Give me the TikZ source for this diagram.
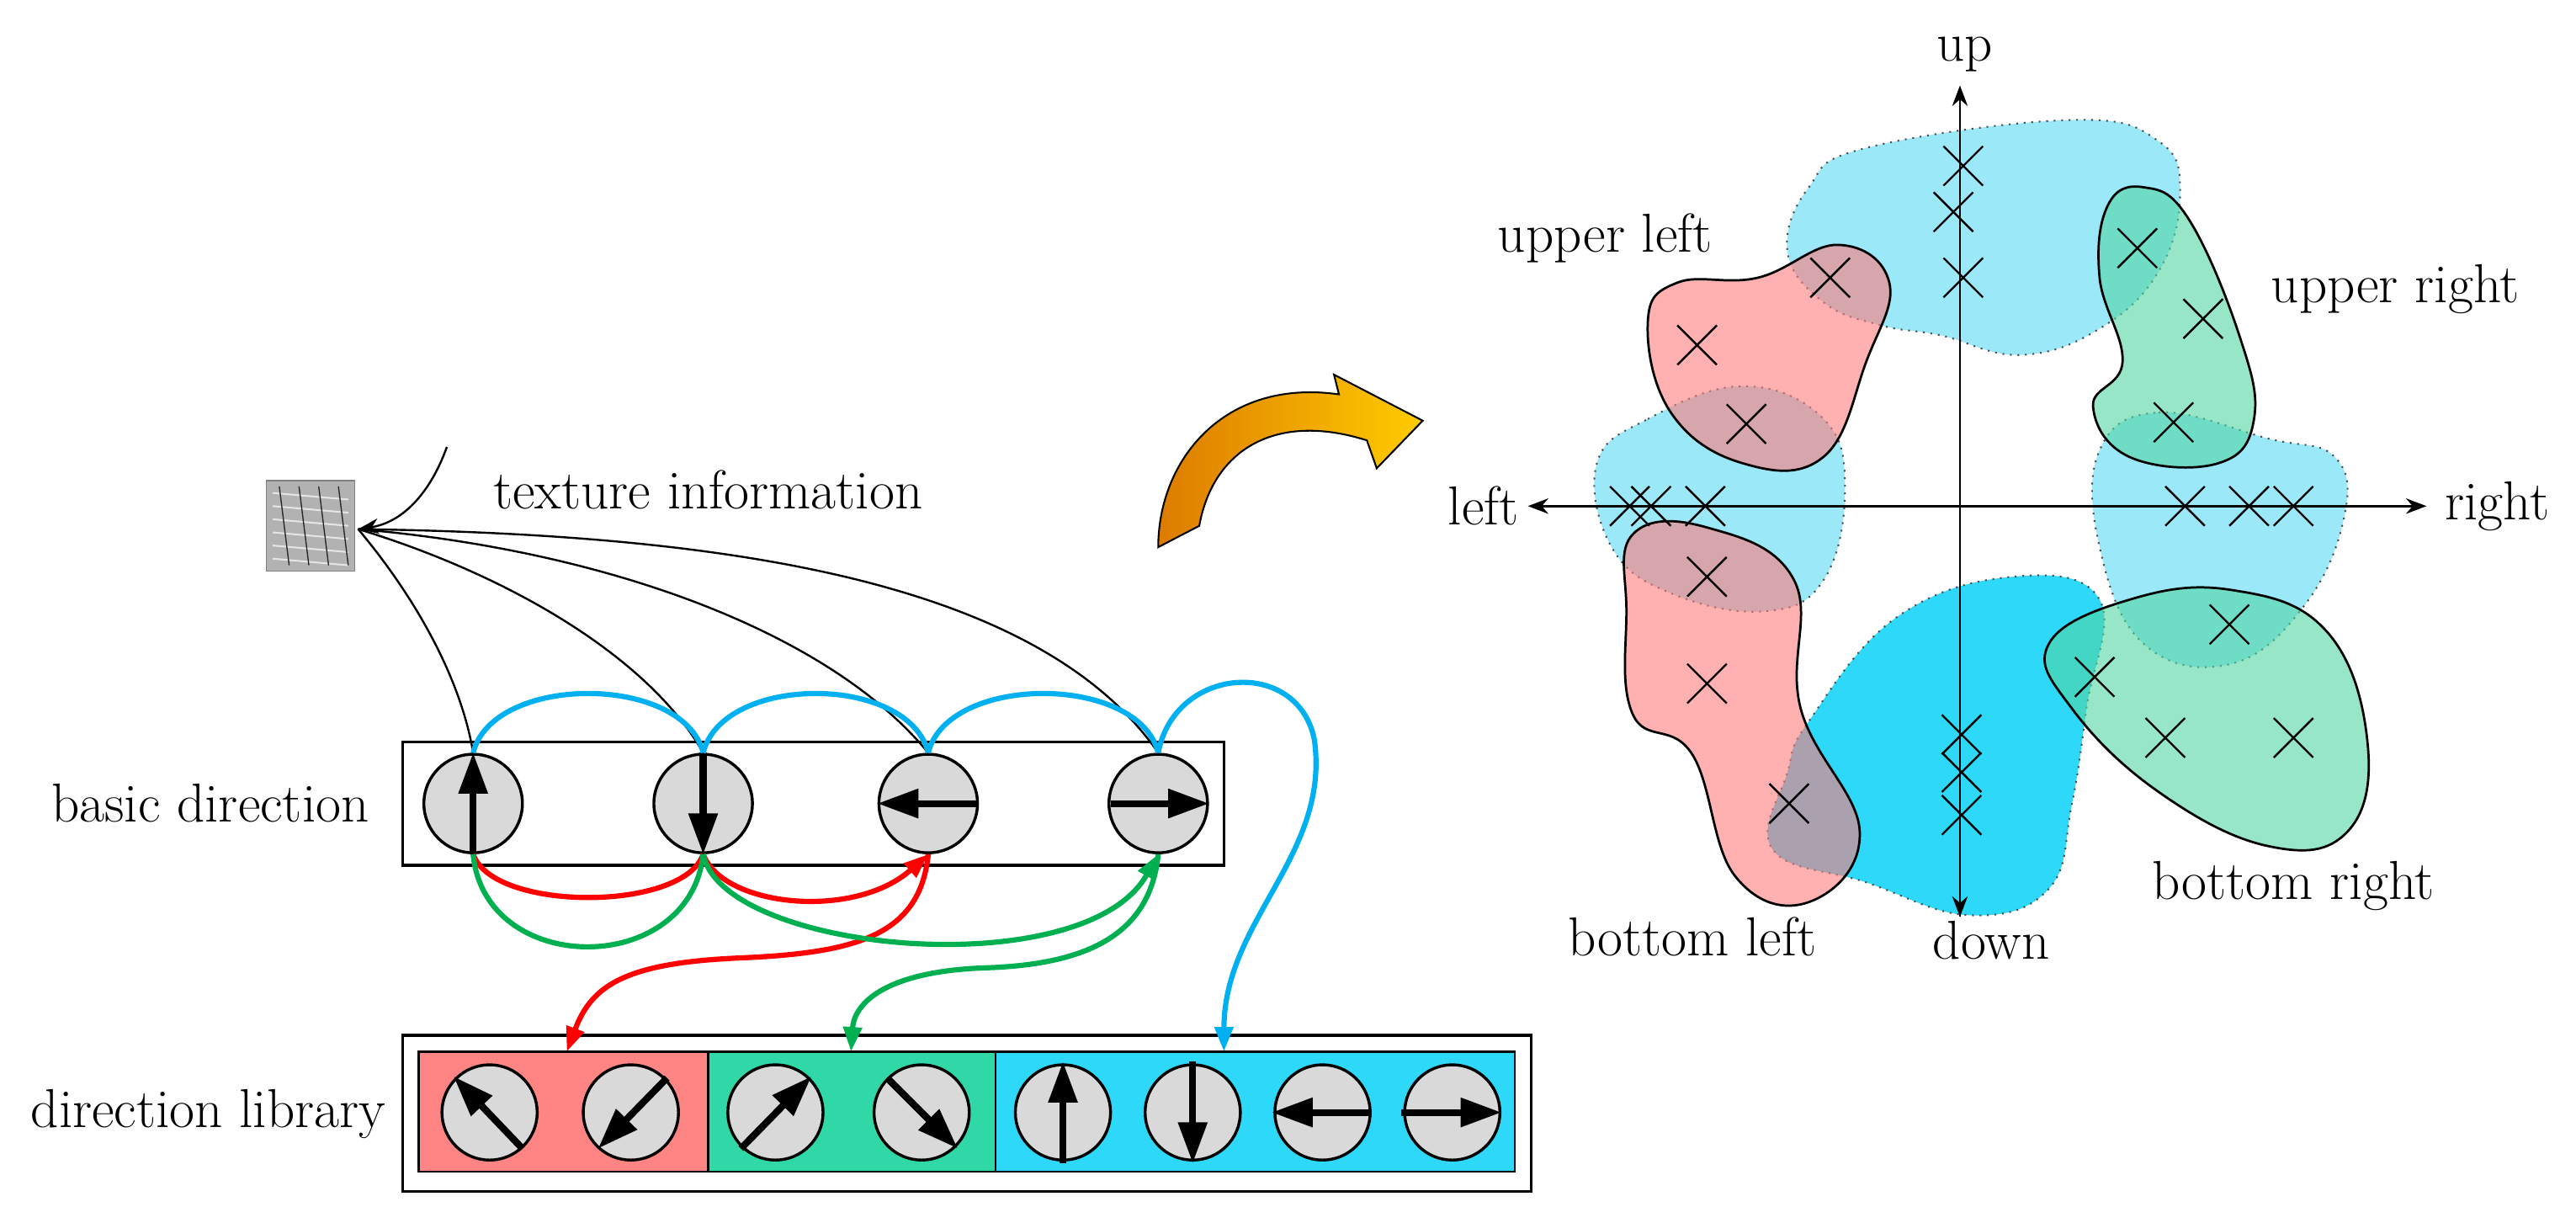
\documentclass[tikz,border=0pt]{standalone}
\usetikzlibrary{arrows.meta}
\definecolor{cblue}{HTML}{00B0F0}
\definecolor{cred}{HTML}{FF0000}
\definecolor{cgreen}{HTML}{00B050}
\definecolor{lcyan}{HTML}{9BE8F8}
\definecolor{dcyan}{HTML}{2DD8F8}
\definecolor{pinkc}{HTML}{FF7B7B}
\definecolor{greenc}{HTML}{53D5A3}
\definecolor{libred}{HTML}{FF8585}
\definecolor{libgreen}{HTML}{30D8A8}
\definecolor{libcyan}{HTML}{2DD8F8}
\begin{document}
\begin{tikzpicture}[x=0.02cm,y=-0.02cm,
  lbl/.style={font=\fontsize{19}{21}\selectfont,inner sep=0pt},
  dir/.style={circle,draw,fill=gray!30,line width=1pt,minimum size=1.2cm,inner sep=0pt},
  ldir/.style={dir,minimum size=1.16cm},
  darr/.style={line width=2.4pt,-{Triangle[length=0.5cm,width=0.34cm]}},
  blk/.style={line width=0.7pt},
  col/.style={line width=1.8pt},
  ctip/.style={-{Triangle[length=0.3cm,width=0.22cm]}},
  cyanblob/.style={fill=#1,draw=black!70,dotted,line width=0.6pt},
  solblob/.style={fill=#1,fill opacity=0.6,draw=black,line width=0.8pt,draw opacity=1},
  cross/.style={line width=0.7pt}]
\useasboundingbox (0,0) rectangle (1568,744);
% ---------- left part ----------
\node[lbl,anchor=west] (tl) at (300,298) {texture information};
\node[draw=gray,fill=gray!60,minimum width=1.08cm,minimum height=1.1cm,inner sep=0pt] (tex) at (189,320) {};
\foreach \yy in {300,308,316,324,332,340}{\draw[white!80!gray,line width=0.6pt] (166,\yy) -- (212,\yy+4);}
\foreach \xx in {170,182,194,206}{\draw[gray!30!black,line width=0.4pt] (\xx,296) -- (\xx+6,344);}
\coordinate (texr) at (218,322);
\coordinate (tls) at (272,272);
\draw[blk,-{Stealth[length=0.25cm]}] (tls) .. controls (262,300) and (245,318) .. (texr);
\node[draw,line width=1pt,minimum width=10cm,minimum height=1.5cm,inner sep=0pt] (bbox) at (495,489) {};
\node[lbl,anchor=east] at (225,489) {basic direction};
\node[dir] (b1) at (288,489) {};
\node[dir] (b2) at (428,489) {};
\node[dir] (b3) at (565,489) {};
\node[dir] (b4) at (705,489) {};
\draw[darr] (288,520) -- (288,458);
\draw[darr] (428,458) -- (428,520);
\draw[darr] (594,489) -- (534,489);
\draw[darr] (676,489) -- (736,489);
% library
\node[draw,line width=1pt,minimum width=13.74cm,minimum height=1.9cm,inner sep=0pt] (lbox) at (588.5,677.5) {};
\fill[libred,draw=black,line width=0.8pt] (255,640) rectangle (431,713);
\fill[libgreen,draw=black,line width=0.8pt] (431,640) rectangle (606,713);
\fill[libcyan,draw=black,line width=0.8pt] (606,640) rectangle (922,713);
\node[lbl,anchor=east] at (235,678) {direction library};
\node[ldir] (l1) at (298,677) {};
\node[ldir] (l2) at (384,677) {};
\node[ldir] (l3) at (472,677) {};
\node[ldir] (l4) at (561,677) {};
\node[ldir] (l5) at (647,677) {};
\node[ldir] (l6) at (726,677) {};
\node[ldir] (l7) at (805,677) {};
\node[ldir] (l8) at (884,677) {};
\draw[darr] (318,699) -- (276,655);
\draw[darr] (406,656) -- (364,699);
\draw[darr] (451,699) -- (494,655);
\draw[darr] (540,656) -- (583,699);
\draw[darr] (647,708) -- (647,646);
\draw[darr] (726,646) -- (726,708);
\draw[darr] (835,677) -- (774,677);
\draw[darr] (853,677) -- (914,677);
% black curves
\draw[blk] (texr) .. controls (250,360) and (280,410) .. (b1.north);
\draw[blk] (texr) .. controls (310,350) and (395,400) .. (b2.north);
\draw[blk] (texr) .. controls (370,335) and (505,385) .. (b3.north);
\draw[blk] (texr) .. controls (430,325) and (630,350) .. (b4.north);
% cyan arcs
\draw[col,cblue] (b1.north) .. controls (300,410) and (416,410) .. (b2.north);
\draw[col,cblue] (b2.north) .. controls (440,410) and (553,410) .. (b3.north);
\draw[col,cblue] (b3.north) .. controls (577,410) and (693,410) .. (b4.north);
\coordinate (lc) at (745,640);
\draw[col,cblue,ctip] (b4.north) .. controls (715,405) and (790,400) .. (800,450) .. controls (810,520) and (745,560) .. (lc);
% red
\draw[col,cred] (b1.south) .. controls (300,555) and (416,555) .. (b2.south);
\draw[col,cred,ctip] (b2.south) .. controls (440,552) and (520,560) .. (b3.south);
\coordinate (lr) at (345,640);
\draw[col,cred,ctip] (b3.south) .. controls (560,570) and (520,580) .. (450,583) .. controls (380,586) and (360,600) .. (lr);
% green
\draw[col,cgreen] (b1.south) .. controls (295,595) and (420,595) .. (b2.south);
\draw[col,cgreen,ctip] (b2.south) .. controls (440,580) and (660,600) .. (b4.south);
\coordinate (lg) at (518,640);
\draw[col,cgreen,ctip] (b4.south) .. controls (700,570) and (660,587) .. (600,589) .. controls (540,591) and (520,610) .. (lg);
% orange arrow
\shade[left color=black!15!orange!90!yellow,right color=yellow!60!orange,draw=black,line width=0.6pt]
 (705,333) .. controls (705,280) and (745,230) .. (815,240) -- (812,228) -- (866,256) -- (838,285) -- (832,268)
 .. controls (775,250) and (738,275) .. (730,320) -- cycle;
% ---------- right part ----------
\draw[cyanblob=lcyan] plot[smooth cycle,tension=0.7] coordinates {(1088,153) (1101,114) (1136,90) (1261,73) (1314,86) (1327,118) (1314,165) (1278,200) (1230,216) (1181,204) (1145,198) (1110,184)};
\draw[cyanblob=lcyan] plot[smooth cycle,tension=0.7] coordinates {(972,282) (1003,255) (1061,235) (1110,255) (1123,298) (1110,353) (1074,372) (1017,361) (981,333)};
\draw[cyanblob=lcyan] plot[smooth cycle,tension=0.7] coordinates {(1278,274) (1314,251) (1381,267) (1421,278) (1427,314) (1403,368) (1358,404) (1305,392) (1278,333)};
\draw[cyanblob=dcyan] plot[smooth cycle,tension=0.7] coordinates {(1101,439) (1154,376) (1225,351) (1278,365) (1270,431) (1261,490) (1247,541) (1199,557) (1136,537) (1079,517) (1088,470)};
\draw[solblob=pinkc] plot[smooth cycle,tension=0.7] coordinates {(1003,196) (1021,172) (1070,169) (1119,149) (1150,172) (1136,220) (1110,278) (1061,282) (1017,251)};
\draw[solblob=pinkc] plot[smooth cycle,tension=0.7] coordinates {(994,325) (1039,321) (1092,353) (1096,431) (1132,506) (1101,549) (1056,533) (1030,459) (994,435) (990,372)};
\draw[solblob=greenc] plot[smooth cycle,tension=0.7] coordinates {(1283,125) (1305,114) (1332,133) (1363,204) (1372,255) (1350,282) (1296,278) (1274,247) (1292,220) (1278,169)};
\draw[solblob=greenc] plot[smooth cycle,tension=0.7] coordinates {(1247,392) (1296,365) (1358,359) (1416,384) (1441,451) (1429,506) (1381,515) (1314,482) (1261,431)};
% axes
\node[lbl] (up) at (1196,33) {up};
\node[lbl] (down) at (1212,572) {down};
\node[lbl] (left) at (903,308) {left};
\node[lbl] (right) at (1520,308) {right};
\draw[line width=0.8pt,-{Stealth[length=0.25cm]}] (1193,558) -- (1193,52);
\draw[line width=0.8pt,-{Stealth[length=0.25cm]}] (1193,308) -- (1193,558);
\draw[line width=0.8pt,-{Stealth[length=0.25cm]}] (1193,308) -- (1477,308);
\draw[line width=0.8pt,-{Stealth[length=0.25cm]}] (1193,308) -- (930,308);
% crosses
\foreach \x/\y in {1195/101,1189/129,1195/169,1114/169,1033/210,1063/258,1301/151,1341/194,1323/257,992/308,1005/308,1038/308,1330/308,1369/308,1396/308,1039/351,1039/416,1089/489,1194/447,1194/470,1194/496,1357/380,1275/412,1318/449,1396/449}
  \draw[cross] (\x-12,\y-12) -- (\x+12,\y+12) (\x-12,\y+12) -- (\x+12,\y-12);
\node[lbl] at (977,145) {upper left};
\node[lbl] at (1458,176) {upper right};
\node[lbl] at (1396,539) {bottom right};
\node[lbl] at (1030,570) {bottom left};
\end{tikzpicture}
\end{document}
